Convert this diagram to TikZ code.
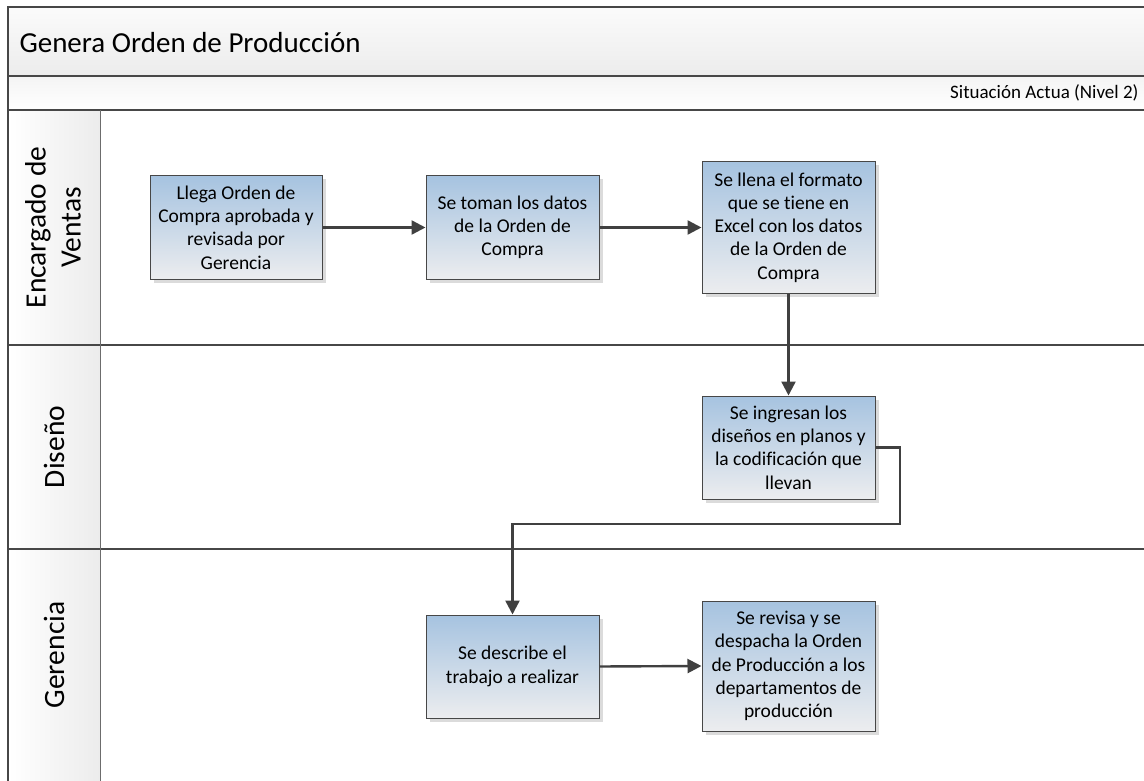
\documentclass[tikz,border=0pt]{standalone}
\usepackage{fontspec}
\setmainfont{Carlito}[Ligatures=NoCommon]
\usetikzlibrary{arrows.meta,shadows}

\definecolor{frameline}{HTML}{474747}
\definecolor{flowline}{HTML}{404040}
\definecolor{boxtop}{HTML}{A6C3E0}
\definecolor{boxbottom}{HTML}{ECEDEF}
\definecolor{bandtop}{HTML}{FBFBFB}
\definecolor{bandbottom}{HTML}{ECECEC}

\tikzset{
  frame/.style={draw=frameline, line width=1.5pt},
  stepbox/.style={draw=frameline, line width=1pt, top color=boxtop, bottom color=boxbottom,
    align=center, inner sep=2pt, font=\fontsize{19.5}{23.3}\selectfont,
    general shadow={fill=black!14, shadow xshift=3.5pt, shadow yshift=-3.5pt}},
  flow/.style={draw=flowline, line width=2.4pt, -{Triangle[length=14pt,width=14pt]}},
  lanelabel/.style={rotate=90, align=center, font=\fontsize{29.5}{35}\selectfont}
}

\begin{document}
\begin{tikzpicture}[x=1pt, y=-1pt]
  \useasboundingbox (0,0) rectangle (1144,781);

  % header bands and lane label column
  \shade[top color=bandtop, bottom color=bandbottom] (8,7) rectangle (1144,76);
  \shade[top color=bandbottom!60, bottom color=white] (8,76) rectangle (1144,110);
  \shade[left color=white, right color=bandbottom] (8,110) rectangle (100,781);

  % frame and lane separators
  \draw[frame] (1144,7) -- (8,7) -- (8,781);
  \draw[frame] (8,76) -- (1144,76);
  \draw[frame] (8,110) -- (1144,110);
  \draw[frame] (8,345) -- (1144,345);
  \draw[frame] (8,549) -- (1144,549);
  \draw[draw=frameline!80, line width=1pt] (100,110) -- (100,781);

  % titles
  \node[anchor=west, font=\fontsize{29}{35}\selectfont] (title) at (16,43) {Genera Orden de Producción};
  \node[anchor=east, font=\fontsize{19}{23}\selectfont] (level) at (1142,93) {Situación Actua (Nivel 2)};

  % lane names
  \node[lanelabel] (laneA) at (53,227.5) {Encargado de\\Ventas};
  \node[lanelabel] (laneB) at (54,447) {Diseño};
  \node[lanelabel] (laneC) at (54,655) {Gerencia};

  % process steps
  \node[stepbox, minimum width=172pt, minimum height=103pt] (s1) at (236,227.5)
    {Llega Orden de\\Compra aprobada y\\revisada por\\Gerencia};
  \node[stepbox, minimum width=173pt, minimum height=103pt] (s2) at (512.5,227.5)
    {Se toman los datos\\de la Orden de\\Compra};
  \node[stepbox, minimum width=173pt, minimum height=131pt] (s3) at (788.5,227.5)
    {Se llena el formato\\que se tiene en\\Excel con los datos\\de la Orden de\\Compra};
  \node[stepbox, minimum width=173pt, minimum height=103pt] (s4) at (788.5,447.5)
    {Se ingresan los\\diseños en planos y\\la codificación que\\llevan};
  \node[stepbox, minimum width=173pt, minimum height=103pt] (s5) at (512.5,666.5)
    {Se describe el\\trabajo a realizar};
  \node[stepbox, minimum width=173pt, minimum height=130pt] (s6) at (788.5,666)
    {Se revisa y se\\despacha la Orden\\de Producción a los\\departamentos de\\producción};

  % bend points of the Diseño to Gerencia connector
  \coordinate (k1) at (900,447.5);
  \coordinate (k2) at (900,524);
  \coordinate (k3) at (512.5,524);

  % connectors
  \draw[flow] (s1.east) -- (s2.west);
  \draw[flow] (s2.east) -- (s3.west);
  \draw[flow] (s3.south) -- (s4.north);
  \draw[flow] (s4.east) -- (k1) -- (k2) -- (k3) -- (s5.north);
  \draw[flow] (s5.east) -- (s6.west);
\end{tikzpicture}
\end{document}
